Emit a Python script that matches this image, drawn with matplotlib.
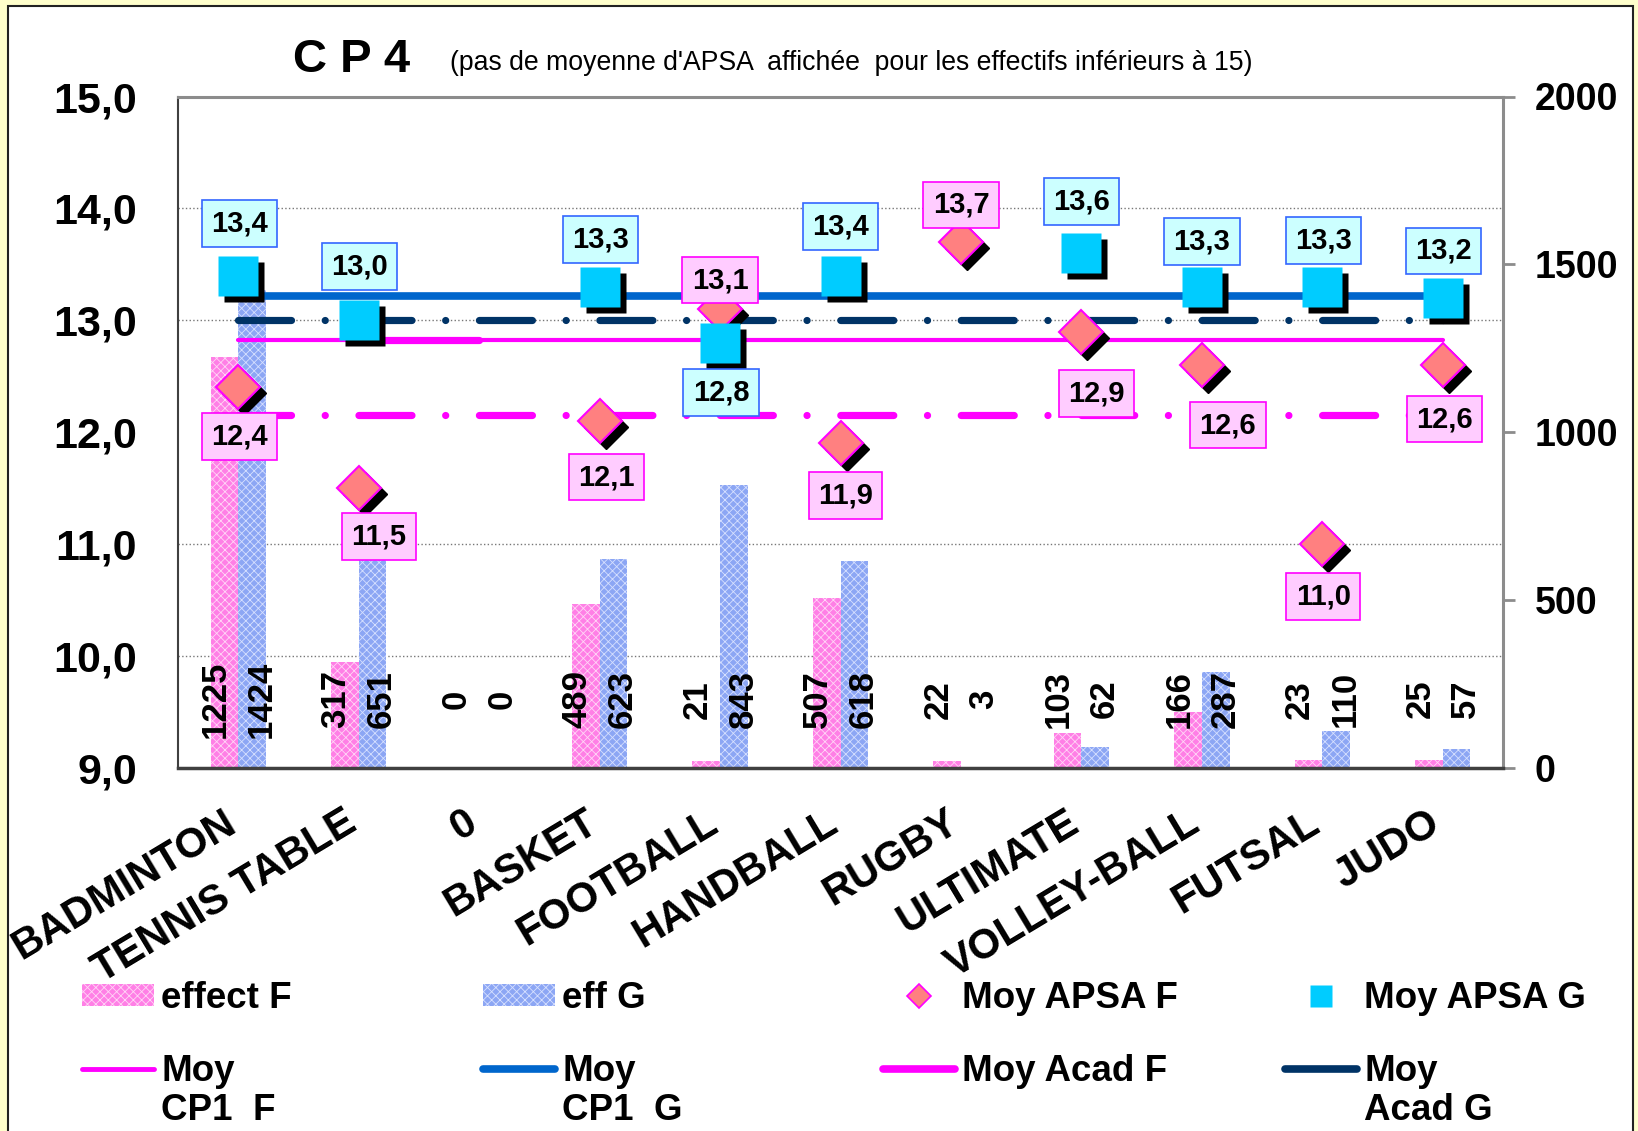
import numpy as np
import matplotlib.pyplot as plt
import matplotlib.transforms as mtransforms
from matplotlib.patches import Patch, Rectangle
from matplotlib.lines import Line2D

plt.rcParams['font.family'] = ['Liberation Sans', 'DejaVu Sans']
plt.rcParams['font.weight'] = 'bold'
plt.rcParams['hatch.linewidth'] = 0.6

# data
categories = ['BADMINTON', 'TENNIS TABLE', '0', 'BASKET', 'FOOTBALL', 'HANDBALL',
              'RUGBY', 'ULTIMATE', 'VOLLEY-BALL', 'FUTSAL', 'JUDO']
eff_f = [1225, 317, 0, 489, 21, 507, 22, 103, 166, 23, 25]
eff_g = [1424, 651, 0, 623, 843, 618, 3, 62, 287, 110, 57]
moy_apsa_f = [12.4, 11.5, np.nan, 12.1, 13.1, 11.9, 13.7, 12.9, 12.6, 11.0, 12.6]
moy_apsa_g = [13.4, 13.0, np.nan, 13.3, 12.8, 13.4, np.nan, 13.6, 13.3, 13.3, 13.2]
moy_cp1_f = 12.82
moy_cp1_g = 13.22
moy_acad_f = 12.15
moy_acad_g = 13.0

# label offsets in pixels (dx right, dy down)
off_f = [(1, 49), (20, 48), None, (7, 56), (0, -29), (5, 52), (0, -37), (15, 62), (26, 60), (1, 52), (2, 54)]
off_g = [(1, -52), (1, -54), None, (1, -47), (1, 50), (0, -49), None, (0, -52), (0, -45), (1, -46), (1, -47)]

W, H = 1638, 1131
fig = plt.figure(figsize=(W / 100, H / 100), dpi=100)
fig.patch.set_facecolor('#FFFFCC')
panel = Rectangle((8 / W, -0.05), (1633 - 8) / W, 1.05 - 6 / H, transform=fig.transFigure,
                  facecolor='white', edgecolor='#222222', lw=1.5, zorder=-5)
fig.add_artist(panel)

ax = fig.add_axes([178 / W, 1 - 768 / H, (1503 - 178) / W, (768 - 96.5) / H])
ax2 = ax.twinx()

x = np.arange(len(categories))
bw = 0.23
pink = '#FF7FE6'
blue = '#8CA6F4'
ax.bar(x - bw / 2, eff_f, width=bw, color=pink, edgecolor='#FFD6F6', lw=0, hatch='xxxx', zorder=2)
ax.bar(x + bw / 2, eff_g, width=bw, color=blue, edgecolor='#D6E0FF', lw=0, hatch='xxxx', zorder=2)
for i in range(len(categories)):
    ax.text(x[i] - 0.19, 205, str(eff_f[i]), rotation=90, ha='center', va='center',
            fontsize=25, fontweight='bold', zorder=3)
    ax.text(x[i] + 0.19, 205, str(eff_g[i]), rotation=90, ha='center', va='center',
            fontsize=25, fontweight='bold', zorder=3)

ax.set_xlim(-0.5, len(categories) - 0.5)
ax.set_ylim(0, 2000)
ax2.set_ylim(9, 15)

ax.yaxis.tick_right()
ax2.yaxis.tick_left()
ax.set_yticks([0, 500, 1000, 1500, 2000])
ax.tick_params(axis='y', direction='out', length=8.6, width=2, color='#8C8C8C', labelsize=27, pad=14)
left_ticks = np.arange(9, 15.01, 1.0)
ax2.set_yticks(left_ticks, [f'{v:.1f}'.replace('.', ',') for v in left_ticks])
ax2.tick_params(axis='y', length=0, labelsize=31, pad=29.5)

# dotted gridlines behind the bars, at the left-axis ticks
grid_pos = (left_ticks[1:-1] - 9) / (15 - 9) * 2000
ax.set_yticks(grid_pos, minor=True)
ax.tick_params(axis='y', which='minor', length=0)
ax.grid(which='minor', axis='y', ls=':', color='#777777', lw=1.0)
ax.set_axisbelow(True)

ax.set_xticks(x, categories)
ax.tick_params(axis='x', length=0, labelsize=30, pad=44)
for t in ax.get_xticklabels():
    t.set_rotation(31)
    t.set_rotation_mode('anchor')
    t.set_ha('right')
    t.set_va('baseline')

for s in ax.spines.values():
    s.set_visible(False)
ax2.spines['left'].set_color('#404040')
ax2.spines['left'].set_linewidth(1.5)
ax2.spines['bottom'].set_color('#404040')
ax2.spines['bottom'].set_linewidth(2.5)
ax2.spines['top'].set_color('#8C8C8C')
ax2.spines['top'].set_linewidth(2.2)
ax2.spines['right'].set_color('#8C8C8C')
ax2.spines['right'].set_linewidth(2.2)

# horizontal mean lines
cat_px = (1503 - 178) / len(categories)
lw_px = 7.2
lw_pt = lw_px * 72 / 100
on = (cat_px / 2 - lw_px) / lw_px
gap = (cat_px - cat_px / 2 + lw_px - 0.01 * lw_px) / 2 / lw_px
dashes = (on, gap, 0.01, gap)
ends = [x[0], x[-1]]
ax2.plot(ends, [moy_acad_f] * 2, color='#FF00FF', lw=lw_pt, dashes=dashes,
         dash_capstyle='round', zorder=3)
ax2.plot(ends, [moy_acad_g] * 2, color='#003366', lw=lw_pt, dashes=dashes,
         dash_capstyle='round', zorder=3)
ax2.plot(ends, [moy_cp1_f] * 2, color='#FF00FF', lw=3.0, solid_capstyle='round', zorder=3)
ax2.plot([x[1], x[2]], [moy_cp1_f] * 2, color='#FF00FF', lw=5.2, solid_capstyle='round', zorder=3)
ax2.plot(ends, [moy_cp1_g] * 2, color='#0066CC', lw=5.5, solid_capstyle='butt', zorder=3)

# markers with drop shadow
shadow = mtransforms.offset_copy(ax2.transData, fig=fig, x=6, y=-6, units='dots')
ax2.plot(x, moy_apsa_f, ls='none', marker='D', ms=22, mfc='black', mec='black', transform=shadow, zorder=5)
ax2.plot(x, moy_apsa_f, ls='none', marker='D', ms=22, mfc='#FF8080', mec='#FF00FF', mew=1.5, zorder=6)
ax2.plot(x, moy_apsa_g, ls='none', marker='s', ms=29, mfc='black', mec='none', transform=shadow, zorder=7)
ax2.plot(x, moy_apsa_g, ls='none', marker='s', ms=29, mfc='#00CCFF', mec='none', zorder=8)

for i in range(len(categories)):
    if off_f[i] is not None and not np.isnan(moy_apsa_f[i]):
        ax2.annotate(f'{moy_apsa_f[i]:.1f}'.replace('.', ','), (x[i], moy_apsa_f[i]),
                     xytext=(off_f[i][0], -off_f[i][1]), textcoords='offset pixels',
                     ha='center', va='center', fontsize=21, fontweight='bold', zorder=10,
                     bbox=dict(boxstyle='square,pad=0.32', fc='#FFCCFF', ec='#FF00FF', lw=1.2))
    if off_g[i] is not None and not np.isnan(moy_apsa_g[i]):
        ax2.annotate(f'{moy_apsa_g[i]:.1f}'.replace('.', ','), (x[i], moy_apsa_g[i]),
                     xytext=(off_g[i][0], -off_g[i][1]), textcoords='offset pixels',
                     ha='center', va='center', fontsize=21, fontweight='bold', zorder=10,
                     bbox=dict(boxstyle='square,pad=0.32', fc='#CCFFFF', ec='#3366FF', lw=1.2))

# title
fig.text(293 / W, 1 - 72 / H, 'C P 4', fontsize=34, fontweight='bold', va='baseline')
fig.text(450 / W, 1 - 70 / H,
         "(pas de moyenne d'APSA  affichée  pour les effectifs inférieurs à 15)",
         fontsize=19.2, fontweight='normal', va='baseline')

# legend: one legend per column
leg_fs = 26.5
col_x = [82, 483, 883, 1285]
col_items = [
    [(Patch(facecolor=pink, edgecolor='#FFD6F6', lw=0, hatch='xxxx'), 'effect F'),
     (Line2D([], [], color='#FF00FF', lw=3.5, solid_capstyle='round'), 'Moy', 'CP1  F')],
    [(Patch(facecolor=blue, edgecolor='#D6E0FF', lw=0, hatch='xxxx'), 'eff G'),
     (Line2D([], [], color='#0066CC', lw=5.5, solid_capstyle='round'), 'Moy', 'CP1  G')],
    [(Line2D([], [], ls='none', marker='D', ms=12.7, mfc='#FF8080', mec='#FF00FF', mew=1.2), 'Moy APSA F'),
     (Line2D([], [], color='#FF00FF', lw=5.5, solid_capstyle='round'), 'Moy Acad F', None)],
    [(Line2D([], [], ls='none', marker='s', ms=16, mfc='#00CCFF', mec='none'), 'Moy APSA G'),
     (Line2D([], [], color='#003366', lw=5.5, solid_capstyle='round'), 'Moy', 'Acad G')],
]
legends = []
for cx, items in zip(col_x, col_items):
    handles = [items[0][0], items[1][0]]
    labels = [items[0][1], items[1][1]]
    lg = fig.legend(handles, labels, loc='upper left', bbox_to_anchor=(cx / W, 1 - 981 / H),
                    frameon=False, borderpad=0, borderaxespad=0,
                    handlelength=1.95, handleheight=0.52, handletextpad=0.2, labelspacing=1.03,
                    prop={'weight': 'bold', 'size': leg_fs})
    legends.append((lg, items[1][2]))

fig.canvas.draw()
inv = fig.transFigure.inverted()
for lg, second in legends:
    if second is None:
        continue
    bb = lg.get_texts()[1].get_window_extent()
    fx, fy = inv.transform((bb.x0, bb.y0 - 4))
    fig.text(fx, fy, second, fontsize=leg_fs, fontweight='bold', va='top', ha='left')

fig.savefig('out.png', dpi=100, facecolor=fig.get_facecolor())
